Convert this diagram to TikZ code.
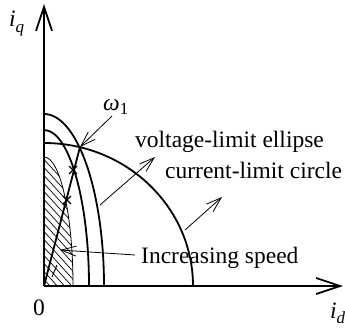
\documentclass[tikz,border=0pt]{standalone}
\usepackage{fontspec}
\setmainfont{Liberation Serif}
\usetikzlibrary{arrows.meta}
\begin{document}
\begin{tikzpicture}[x=1pt,y=-1pt,
 thickcurve/.style={line width=1.8pt},
 thincurve/.style={line width=0.8pt},
 hatchline/.style={line width=0.7pt},
 pointer/.style={line width=0.8pt,-{Straight Barb[length=15pt,width=10pt]}},
 axisline/.style={line width=1.8pt,-{Straight Barb[length=24pt,width=16pt]}},
 lbl/.style={font=\fontsize{23.5}{27}\selectfont, inner sep=0pt, anchor=base west}]
\useasboundingbox (0,0) rectangle (345,329);
\coordinate (O) at (44,286);
\coordinate (P) at (80,147);
\coordinate (Ytip) at (44,4);
\coordinate (Xtip) at (343,286);
% hatched region
\begin{scope}
\clip (44,0) rectangle (345,286);
\clip (O) ellipse [x radius=29, y radius=129];
\foreach \c in {-80,-72,...,300} \draw[hatchline] (30,\c) -- (130,\c+110);
\end{scope}
% curves
\begin{scope}
\clip (44,0) rectangle (345,286);
\draw[thickcurve] (O) ellipse [x radius=149, y radius=143];
\draw[thickcurve] (O) ellipse [x radius=60, y radius=172];
\draw[thickcurve] (O) ellipse [x radius=45, y radius=156];
\draw[thincurve] (O) ellipse [x radius=29, y radius=129];
\end{scope}
% MTPA line
\draw[thickcurve] (O) -- (P);
\draw[line width=1pt] (57,265) -- (52,277);
% crosses
\draw[line width=1.4pt] (69,166) -- (77,174) (69,174) -- (77,166);
\draw[line width=1.4pt] (63,196) -- (71,204) (63,204) -- (71,196);
% axes
\draw[axisline] (O) -- (Ytip);
\draw[axisline] (O) -- (Xtip);
% pointers
\coordinate (w1s) at (112,116);
\coordinate (vs) at (100,205);
\coordinate (vt) at (155,157);
\coordinate (cs) at (185,230);
\coordinate (ct) at (222,197);
\coordinate (ss) at (135,255);
\coordinate (st) at (60,250);
\draw[pointer] (w1s) -- (P);
\draw[pointer] (vs) -- (vt);
\draw[pointer] (cs) -- (ct);
\draw[pointer] (ss) -- (st);
% labels
\node[lbl] (wlab) at (103,110) {\textit{ω}\raisebox{-0.2em}{\fontsize{17}{17}\selectfont 1}};
\node[lbl] (vlab) at (135,147) {voltage-limit ellipse};
\node[lbl] (clab) at (165,178) {current-limit circle};
\node[lbl] (slab) at (141,263) {Increasing speed};
\node[lbl] (iq) at (9,27) {\textit{i}\raisebox{-0.25em}{\fontsize{17}{17}\selectfont\textit{q}}};
\node[lbl] (id) at (330,318) {\textit{i}\raisebox{-0.25em}{\fontsize{17}{17}\selectfont\textit{d}}};
\node[lbl] (zero) at (33,315) {0};
\end{tikzpicture}
\end{document}
